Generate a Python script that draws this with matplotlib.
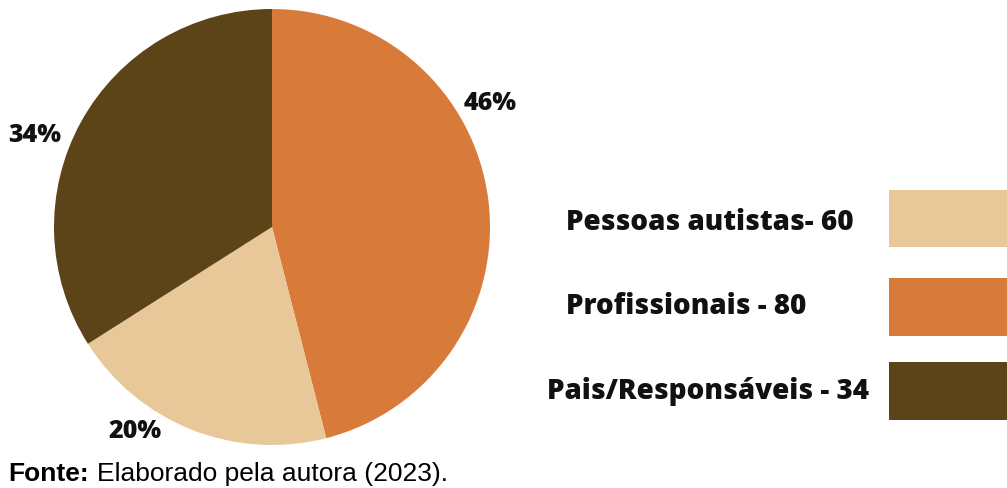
import matplotlib
matplotlib.use("Agg")
import matplotlib.pyplot as plt
from matplotlib.patches import Rectangle

categories = ["Profissionais", "Pessoas autistas", "Pais/Responsáveis"]
shares = [46, 20, 34]
pct_labels = ["46%", "20%", "34%"]
legend_labels = ["Pessoas autistas- 60", "Profissionais - 80", "Pais/Responsáveis - 34"]
colors = {"Profissionais": "#D87B3A", "Pessoas autistas": "#E8C898", "Pais/Responsáveis": "#5C4318"}
legend_order = ["Pessoas autistas", "Profissionais", "Pais/Responsáveis"]
source_bold = "Fonte:"
source_rest = "Elaborado pela autora (2023)."

W, H = 1007, 488
fig = plt.figure(figsize=(W / 100, H / 100), dpi=100)
fig.patch.set_facecolor("white")

cx, cy, r = 272, 227, 218
ax = fig.add_axes([(cx - r) / W, (H - cy - r) / H, 2 * r / W, 2 * r / H])
ax.pie(shares, colors=[colors[c] for c in categories], startangle=90, counterclock=False,
       radius=1, wedgeprops=dict(linewidth=0))
ax.set_xlim(-1, 1)
ax.set_ylim(-1, 1)
ax.set_aspect("equal")
ax.axis("off")

heavy = dict(family=["Open Sans", "DejaVu Sans"], fontweight=800, color="#111111")

label_pos = [(490, 104), (135, 431), (35, 135)]
for (px, py), t in zip(label_pos, pct_labels):
    fig.text(px / W, 1 - py / H, t, ha="center", va="center", fontsize=18, **heavy)

text_pos = [(710, 223), (686, 307), (708, 391)]
rect_y = [(190, 247), (278, 336), (362, 420)]
for (px, py), t, (y0, y1), c in zip(text_pos, legend_labels, rect_y, legend_order):
    fig.text(px / W, 1 - py / H, t, ha="center", va="center", fontsize=20, **heavy)
    fig.patches.append(Rectangle((889 / W, 1 - y1 / H), (W - 889) / W + 0.01, (y1 - y0) / H,
                                 transform=fig.transFigure, facecolor=colors[c], edgecolor="none"))

fig.text(8 / W, 1 - 481 / H, source_bold, ha="left", va="baseline", fontsize=19,
         family="Liberation Sans", fontweight="bold", color="black")
fig.text(97 / W, 1 - 481 / H, source_rest, ha="left", va="baseline", fontsize=19,
         family="Liberation Sans", color="black")

fig.savefig("out.png", dpi=100, facecolor="white")
